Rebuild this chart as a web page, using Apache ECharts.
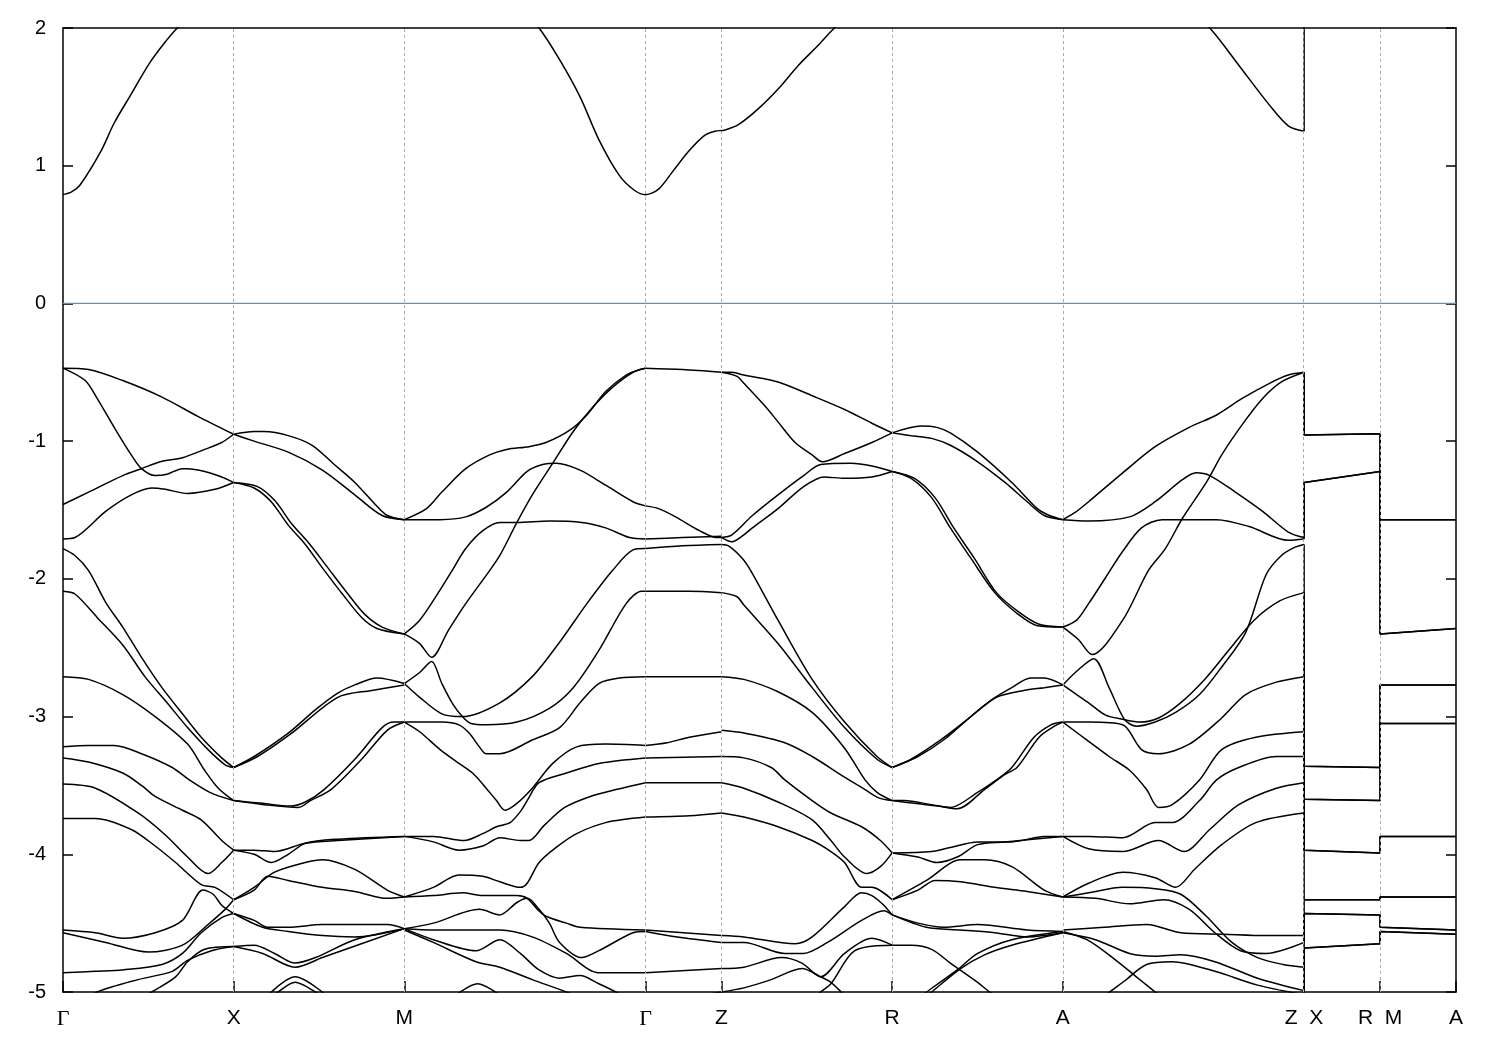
<!DOCTYPE html>
<html><head><meta charset="utf-8">
<script src="https://cdn.jsdelivr.net/npm/echarts@6/dist/echarts.min.js"></script>
<style>html,body{margin:0;padding:0;background:#fff}#c{width:1500px;height:1050px}</style>
</head><body><div id="c"></div>
<script>
// k-path positions (units of Gamma-X length) and labels
const tickK = [0, 1, 2, 3.414, 3.859, 4.859, 5.859, 7.273, 7.718, 8.163];
const tickLabels = ['Γ', 'X', 'M', 'Γ', 'Z', 'R', 'A', 'Z  X', 'R  M', 'A'];
const fermiLevel = 0;

// conduction band (values above 2 eV are clipped)
const cbCurve = [[0,0.79],[0.05,0.81],[0.10,0.86],[0.22,1.10],[0.30,1.31],[0.39,1.50],[0.51,1.75],[0.60,1.90],[0.67,2.0],[0.8,2.15],[1,2.35],[1.5,2.6],[2,2.7],[2.4,2.45],[2.65,2.2],[2.79,2.0],[2.91,1.77],[3.03,1.50],[3.14,1.19],[3.26,0.93],[3.35,0.82],[3.414,0.79],[3.49,0.83],[3.58,0.97],[3.67,1.11],[3.76,1.22],[3.82,1.25],[3.88,1.26],[3.96,1.30],[4.08,1.42],[4.20,1.57],[4.31,1.73],[4.43,1.88],[4.52,2.0],[4.7,2.2],[4.859,2.35],[5.4,2.55],[5.859,2.6],[6.3,2.4],[6.6,2.12],[6.72,2.0],[6.89,1.73],[7.07,1.44],[7.18,1.29],[7.273,1.25]];

// Gamma - X
const segGX = [
 [[0,-0.47],[0.15,-0.48],[0.35,-0.56],[0.58,-0.68],[0.79,-0.82],[1,-0.95]],
 [[0,-0.47],[0.13,-0.56],[0.20,-0.69],[0.30,-0.90],[0.40,-1.10],[0.46,-1.20],[0.54,-1.25],[0.61,-1.24],[0.70,-1.20],[0.73,-1.20],[0.83,-1.22],[0.93,-1.26],[1,-1.30]],
 [[0,-1.46],[0.15,-1.37],[0.35,-1.25],[0.46,-1.20],[0.57,-1.15],[0.70,-1.12],[0.83,-1.06],[0.93,-1.01],[1,-0.95]],
 [[0,-1.71],[0.07,-1.70],[0.25,-1.51],[0.40,-1.39],[0.52,-1.34],[0.60,-1.35],[0.73,-1.38],[0.89,-1.35],[1,-1.30]],
 [[0,-1.78],[0.07,-1.83],[0.15,-1.94],[0.25,-2.17],[0.35,-2.35],[0.46,-2.57],[0.58,-2.79],[0.70,-2.98],[0.81,-3.15],[0.93,-3.30],[1,-3.37]],
 [[0,-2.09],[0.07,-2.11],[0.20,-2.28],[0.35,-2.48],[0.48,-2.71],[0.61,-2.90],[0.73,-3.08],[0.85,-3.24],[0.95,-3.35],[1,-3.37]],
 [[0,-2.71],[0.15,-2.73],[0.35,-2.84],[0.54,-3.00],[0.73,-3.20],[0.83,-3.39],[0.91,-3.52],[1,-3.61]],
 [[0,-3.22],[0.15,-3.21],[0.30,-3.21],[0.46,-3.27],[0.64,-3.37],[0.74,-3.46],[0.86,-3.55],[1,-3.61]],
 [[0,-3.30],[0.15,-3.33],[0.35,-3.41],[0.46,-3.50],[0.54,-3.58],[0.70,-3.68],[0.81,-3.75],[0.93,-3.90],[1,-3.97]],
 [[0,-3.49],[0.19,-3.52],[0.44,-3.70],[0.60,-3.86],[0.73,-4.02],[0.85,-4.14],[0.93,-4.06],[1,-3.97]],
 [[0,-3.74],[0.19,-3.74],[0.40,-3.82],[0.54,-3.94],[0.66,-4.06],[0.81,-4.22],[0.89,-4.24],[1,-4.33]],
 [[0,-4.55],[0.19,-4.57],[0.35,-4.61],[0.54,-4.57],[0.70,-4.48],[0.82,-4.26],[0.88,-4.29],[0.93,-4.37],[1,-4.43]],
 [[0,-4.57],[0.25,-4.64],[0.50,-4.71],[0.70,-4.66],[0.85,-4.51],[0.95,-4.40],[1,-4.33]],
 [[0,-4.86],[0.19,-4.85],[0.35,-4.84],[0.58,-4.80],[0.70,-4.72],[0.81,-4.57],[0.93,-4.46],[1,-4.43]],
 [[0.10,-5.08],[0.20,-5.0],[0.44,-4.91],[0.64,-4.85],[0.73,-4.77],[0.87,-4.70],[1,-4.67]],
 [[0.45,-5.05],[0.52,-5.0],[0.66,-4.89],[0.73,-4.78],[0.83,-4.69],[1,-4.67]]
];

// X - M
const segXM = [
 [[1,-0.95],[1.12,-0.93],[1.18,-0.93],[1.32,-0.96],[1.46,-1.03],[1.59,-1.17],[1.71,-1.30],[1.83,-1.46],[1.90,-1.54],[2,-1.57]],
 [[1,-0.95],[1.12,-1.00],[1.32,-1.08],[1.52,-1.21],[1.71,-1.39],[1.87,-1.54],[2,-1.57]],
 [[1,-1.30],[1.12,-1.34],[1.22,-1.44],[1.32,-1.61],[1.42,-1.75],[1.52,-1.92],[1.65,-2.13],[1.75,-2.28],[1.84,-2.36],[2,-2.40]],
 [[1,-1.30],[1.14,-1.33],[1.24,-1.43],[1.34,-1.60],[1.44,-1.74],[1.54,-1.90],[1.67,-2.11],[1.77,-2.26],[1.87,-2.35],[2,-2.40]],
 [[1,-3.37],[1.12,-3.29],[1.32,-3.12],[1.48,-2.95],[1.61,-2.83],[1.71,-2.77],[1.84,-2.72],[2,-2.76]],
 [[1,-3.37],[1.14,-3.29],[1.33,-3.13],[1.61,-2.86],[1.81,-2.81],[2,-2.77]],
 [[1,-3.61],[1.17,-3.63],[1.33,-3.65],[1.42,-3.62],[1.53,-3.53],[1.71,-3.31],[1.87,-3.08],[1.94,-3.04],[2,-3.04]],
 [[1,-3.61],[1.18,-3.64],[1.38,-3.66],[1.45,-3.61],[1.57,-3.53],[1.75,-3.31],[1.90,-3.10],[2,-3.04]],
 [[1,-3.97],[1.12,-3.97],[1.24,-3.98],[1.42,-3.92],[1.61,-3.90],[2,-3.87]],
 [[1,-3.97],[1.12,-4.00],[1.22,-4.06],[1.32,-4.00],[1.42,-3.92],[1.61,-3.89],[2,-3.87]],
 [[1,-4.33],[1.12,-4.24],[1.24,-4.13],[1.42,-4.06],[1.52,-4.04],[1.71,-4.11],[1.90,-4.26],[2,-4.31]],
 [[1,-4.33],[1.12,-4.26],[1.20,-4.16],[1.32,-4.19],[1.52,-4.24],[1.71,-4.27],[1.90,-4.32],[2,-4.31]],
 [[1,-4.43],[1.12,-4.48],[1.20,-4.53],[1.32,-4.53],[1.52,-4.51],[1.90,-4.51],[2,-4.54]],
 [[1,-4.43],[1.17,-4.53],[1.32,-4.56],[1.52,-4.59],[1.71,-4.60],[2,-4.54]],
 [[1,-4.67],[1.12,-4.66],[1.24,-4.72],[1.36,-4.79],[1.48,-4.75],[1.71,-4.62],[2,-4.54]],
 [[1,-4.67],[1.17,-4.72],[1.36,-4.82],[1.52,-4.75],[2,-4.54]],
 [[1.15,-5.1],[1.22,-5.0],[1.36,-4.89],[1.52,-5.0],[1.6,-5.1]],
 [[1.2,-5.05],[1.26,-5.0],[1.36,-4.93],[1.48,-5.0],[1.54,-5.05]]
];

// M - Gamma
const segMG = [
 [[2,-1.57],[2.13,-1.49],[2.22,-1.37],[2.36,-1.20],[2.50,-1.10],[2.60,-1.06],[2.73,-1.04],[2.83,-1.01],[2.97,-0.92],[3.07,-0.81],[3.18,-0.64],[3.30,-0.52],[3.38,-0.48],[3.414,-0.47]],
 [[2,-1.57],[2.21,-1.57],[2.36,-1.55],[2.48,-1.48],[2.60,-1.37],[2.72,-1.22],[2.81,-1.17],[2.89,-1.16],[3.03,-1.21],[3.18,-1.32],[3.34,-1.44],[3.414,-1.47]],
 [[2,-2.40],[2.09,-2.47],[2.16,-2.57],[2.26,-2.37],[2.36,-2.18],[2.50,-1.94],[2.56,-1.83],[2.66,-1.59],[2.75,-1.39],[2.87,-1.16],[2.99,-0.93],[3.10,-0.76],[3.22,-0.61],[3.34,-0.50],[3.414,-0.47]],
 [[2,-2.40],[2.09,-2.30],[2.21,-2.08],[2.28,-1.94],[2.36,-1.78],[2.46,-1.65],[2.56,-1.59],[2.66,-1.59],[2.85,-1.58],[3.04,-1.59],[3.18,-1.63],[3.32,-1.70],[3.414,-1.71]],
 [[2,-2.76],[2.09,-2.86],[2.22,-2.98],[2.34,-3.00],[2.56,-2.90],[2.75,-2.71],[2.91,-2.46],[3.07,-2.18],[3.22,-1.94],[3.34,-1.79],[3.414,-1.78]],
 [[2,-2.76],[2.09,-2.68],[2.16,-2.60],[2.22,-2.76],[2.28,-2.90],[2.34,-3.00],[2.39,-3.05],[2.48,-3.06],[2.66,-3.04],[2.85,-2.94],[2.99,-2.79],[3.14,-2.52],[3.30,-2.18],[3.39,-2.09],[3.414,-2.09]],
 [[2,-3.04],[2.09,-3.04],[2.22,-3.04],[2.32,-3.06],[2.38,-3.12],[2.44,-3.22],[2.48,-3.27],[2.56,-3.27],[2.75,-3.17],[2.91,-3.08],[3.03,-2.90],[3.14,-2.76],[3.26,-2.72],[3.414,-2.71]],
 [[2,-3.04],[2.09,-3.11],[2.21,-3.24],[2.32,-3.34],[2.40,-3.41],[2.48,-3.52],[2.54,-3.61],[2.59,-3.68],[2.66,-3.63],[2.75,-3.52],[2.87,-3.34],[3.01,-3.22],[3.18,-3.20],[3.414,-3.21]],
 [[2,-3.87],[2.17,-3.87],[2.35,-3.90],[2.46,-3.85],[2.54,-3.80],[2.62,-3.77],[2.68,-3.69],[2.72,-3.61],[2.79,-3.48],[2.95,-3.41],[3.14,-3.34],[3.414,-3.30]],
 [[2,-3.87],[2.17,-3.91],[2.32,-3.97],[2.46,-3.94],[2.56,-3.88],[2.68,-3.90],[2.73,-3.90],[2.82,-3.79],[2.94,-3.66],[3.09,-3.58],[3.24,-3.53],[3.414,-3.48]],
 [[2,-4.31],[2.17,-4.24],[2.32,-4.15],[2.46,-4.16],[2.56,-4.20],[2.68,-4.24],[2.72,-4.21],[2.79,-4.06],[2.89,-3.95],[3.01,-3.85],[3.18,-3.77],[3.414,-3.73]],
 [[2,-4.31],[2.17,-4.30],[2.34,-4.28],[2.46,-4.30],[2.56,-4.30],[2.66,-4.30],[2.72,-4.32],[2.78,-4.40],[2.83,-4.45],[2.95,-4.50],[3.03,-4.53],[3.414,-4.55]],
 [[2,-4.54],[2.17,-4.50],[2.44,-4.40],[2.56,-4.44],[2.66,-4.35],[2.72,-4.32],[2.79,-4.40],[2.85,-4.50],[2.91,-4.64],[3.04,-4.75],[3.14,-4.70],[3.34,-4.57],[3.414,-4.56]],
 [[2,-4.54],[2.17,-4.55],[2.56,-4.55],[2.75,-4.60],[2.95,-4.72],[3.14,-4.86],[3.414,-4.86]],
 [[2,-4.54],[2.17,-4.62],[2.42,-4.70],[2.56,-4.62],[2.68,-4.72],[2.79,-4.84],[2.91,-4.90],[3.03,-4.88],[3.14,-4.94],[3.24,-5.0],[3.35,-5.08]],
 [[2,-4.55],[2.17,-4.64],[2.42,-4.78],[2.56,-4.82],[2.75,-4.91],[2.95,-5.0],[3.1,-5.08]],
 [[2.25,-5.06],[2.30,-5.02],[2.43,-4.94],[2.56,-5.02],[2.6,-5.06]]
];

// Gamma - Z
const segGZ = [
 [[3.414,-0.47],[3.63,-0.48],[3.859,-0.50]],
 [[3.414,-1.47],[3.49,-1.49],[3.59,-1.55],[3.73,-1.65],[3.83,-1.70],[3.859,-1.70]],
 [[3.414,-1.71],[3.63,-1.70],[3.859,-1.69]],
 [[3.414,-1.78],[3.63,-1.76],[3.859,-1.75]],
 [[3.414,-2.09],[3.67,-2.09],[3.859,-2.10]],
 [[3.414,-2.71],[3.859,-2.71]],
 [[3.414,-3.21],[3.54,-3.19],[3.67,-3.15],[3.859,-3.11]],
 [[3.414,-3.30],[3.859,-3.29]],
 [[3.414,-3.48],[3.859,-3.48]],
 [[3.414,-3.73],[3.67,-3.72],[3.859,-3.70]],
 [[3.414,-4.55],[3.859,-4.59]],
 [[3.414,-4.56],[3.6,-4.60],[3.859,-4.64]],
 [[3.414,-4.86],[3.859,-4.83]],
 [[3.6,-5.05],[3.859,-5.0]]
];

// Z - R
const segZR = [
 [[3.859,-0.50],[3.92,-0.50],[3.99,-0.52],[4.19,-0.57],[4.39,-0.67],[4.58,-0.77],[4.74,-0.87],[4.859,-0.94]],
 [[3.859,-0.50],[3.95,-0.53],[3.99,-0.58],[4.11,-0.74],[4.19,-0.86],[4.29,-1.01],[4.39,-1.10],[4.45,-1.15],[4.58,-1.09],[4.74,-1.01],[4.859,-0.94]],
 [[3.859,-1.70],[3.92,-1.68],[4.04,-1.54],[4.19,-1.39],[4.34,-1.25],[4.44,-1.17],[4.62,-1.16],[4.74,-1.18],[4.859,-1.22]],
 [[3.859,-1.70],[3.92,-1.73],[3.99,-1.68],[4.04,-1.63],[4.19,-1.49],[4.34,-1.33],[4.46,-1.26],[4.58,-1.27],[4.74,-1.26],[4.859,-1.22]],
 [[3.859,-1.75],[3.90,-1.76],[3.98,-1.85],[4.03,-1.94],[4.19,-2.30],[4.39,-2.73],[4.58,-3.04],[4.77,-3.29],[4.859,-3.37]],
 [[3.859,-2.10],[3.95,-2.13],[3.99,-2.19],[4.19,-2.47],[4.39,-2.79],[4.58,-3.08],[4.77,-3.31],[4.859,-3.37]],
 [[3.859,-2.71],[3.99,-2.73],[4.19,-2.82],[4.39,-2.97],[4.58,-3.23],[4.70,-3.46],[4.77,-3.55],[4.859,-3.61]],
 [[3.859,-3.10],[3.99,-3.12],[4.23,-3.19],[4.39,-3.29],[4.58,-3.44],[4.70,-3.53],[4.78,-3.59],[4.859,-3.61]],
 [[3.859,-3.29],[3.99,-3.30],[4.15,-3.37],[4.23,-3.46],[4.39,-3.61],[4.50,-3.70],[4.68,-3.80],[4.79,-3.90],[4.859,-3.99]],
 [[3.859,-3.48],[3.99,-3.52],[4.19,-3.62],[4.39,-3.75],[4.50,-3.90],[4.58,-4.02],[4.71,-4.14],[4.79,-4.09],[4.859,-3.99]],
 [[3.859,-3.70],[3.99,-3.73],[4.19,-3.80],[4.39,-3.90],[4.50,-3.98],[4.58,-4.06],[4.68,-4.24],[4.74,-4.24],[4.859,-4.33]],
 [[3.859,-4.59],[3.99,-4.60],[4.29,-4.65],[4.39,-4.60],[4.58,-4.38],[4.68,-4.28],[4.74,-4.30],[4.81,-4.37],[4.859,-4.44]],
 [[3.859,-4.64],[3.99,-4.64],[4.23,-4.72],[4.34,-4.72],[4.48,-4.64],[4.68,-4.48],[4.81,-4.41],[4.859,-4.44]],
 [[3.859,-4.83],[3.99,-4.82],[4.21,-4.75],[4.33,-4.79],[4.44,-4.89],[4.58,-4.72],[4.74,-4.61],[4.859,-4.66]],
 [[4.40,-5.05],[4.44,-5.0],[4.50,-4.94],[4.64,-4.70],[4.859,-4.66]],
 [[3.859,-5.0],[3.99,-4.97],[4.15,-4.91],[4.33,-4.83],[4.44,-4.89],[4.50,-4.93],[4.56,-5.0],[4.6,-5.05]]
];

// R - A
const segRA = [
 [[4.859,-0.94],[4.97,-0.96],[5.09,-0.98],[5.20,-1.03],[5.36,-1.15],[5.52,-1.30],[5.65,-1.44],[5.75,-1.54],[5.859,-1.57]],
 [[4.859,-0.94],[5.03,-0.89],[5.12,-0.90],[5.20,-0.94],[5.36,-1.08],[5.56,-1.30],[5.71,-1.49],[5.78,-1.54],[5.859,-1.57]],
 [[4.859,-1.22],[4.97,-1.27],[5.09,-1.41],[5.20,-1.63],[5.32,-1.85],[5.46,-2.10],[5.59,-2.25],[5.71,-2.34],[5.859,-2.35]],
 [[4.859,-1.22],[4.99,-1.27],[5.11,-1.41],[5.22,-1.63],[5.34,-1.85],[5.47,-2.10],[5.60,-2.24],[5.72,-2.33],[5.859,-2.35]],
 [[4.859,-3.37],[4.97,-3.31],[5.12,-3.19],[5.28,-3.04],[5.44,-2.88],[5.56,-2.79],[5.67,-2.72],[5.75,-2.72],[5.859,-2.77]],
 [[4.859,-3.37],[5.01,-3.29],[5.16,-3.17],[5.32,-3.00],[5.47,-2.86],[5.63,-2.81],[5.75,-2.79],[5.859,-2.77]],
 [[4.859,-3.61],[4.93,-3.61],[5.09,-3.64],[5.20,-3.66],[5.36,-3.55],[5.47,-3.46],[5.56,-3.37],[5.69,-3.15],[5.79,-3.06],[5.859,-3.04]],
 [[4.859,-3.61],[4.99,-3.63],[5.13,-3.65],[5.24,-3.67],[5.40,-3.53],[5.52,-3.42],[5.59,-3.37],[5.72,-3.15],[5.81,-3.07],[5.859,-3.04]],
 [[4.859,-3.99],[5.09,-3.98],[5.20,-3.95],[5.36,-3.91],[5.56,-3.91],[5.75,-3.87],[5.859,-3.87]],
 [[4.859,-3.99],[5.01,-4.02],[5.12,-4.06],[5.24,-4.02],[5.36,-3.93],[5.52,-3.91],[5.859,-3.87]],
 [[4.859,-4.33],[5.06,-4.19],[5.26,-4.04],[5.40,-4.04],[5.56,-4.09],[5.75,-4.26],[5.859,-4.31]],
 [[4.859,-4.33],[5.01,-4.26],[5.11,-4.19],[5.26,-4.20],[5.46,-4.24],[5.65,-4.27],[5.859,-4.31]],
 [[4.859,-4.44],[5.01,-4.50],[5.16,-4.53],[5.36,-4.51],[5.65,-4.55],[5.859,-4.56]],
 [[4.859,-4.44],[5.06,-4.53],[5.26,-4.55],[5.46,-4.57],[5.65,-4.60],[5.859,-4.57]],
 [[5.0,-5.05],[5.06,-5.0],[5.24,-4.84],[5.36,-4.72],[5.56,-4.62],[5.859,-4.56]],
 [[5.04,-5.05],[5.09,-5.0],[5.26,-4.83],[5.40,-4.73],[5.56,-4.66],[5.859,-4.57]],
 [[4.859,-4.66],[4.97,-4.66],[5.09,-4.69],[5.20,-4.79],[5.36,-4.93],[5.43,-5.0],[5.5,-5.05]]
];

// A - Z
const segAZ = [
 [[5.859,-1.57],[5.94,-1.51],[6.01,-1.44],[6.21,-1.23],[6.40,-1.04],[6.60,-0.90],[6.76,-0.81],[6.91,-0.69],[7.07,-0.58],[7.18,-0.52],[7.273,-0.50]],
 [[5.859,-1.57],[6.01,-1.58],[6.25,-1.55],[6.40,-1.44],[6.56,-1.28],[6.64,-1.23],[6.72,-1.25],[6.87,-1.37],[7.03,-1.51],[7.18,-1.66],[7.273,-1.70]],
 [[5.859,-2.35],[5.94,-2.30],[6.01,-2.18],[6.11,-1.99],[6.21,-1.80],[6.32,-1.63],[6.44,-1.57],[6.56,-1.57],[6.76,-1.57],[6.95,-1.62],[7.18,-1.72],[7.273,-1.71]],
 [[5.859,-2.35],[5.95,-2.44],[6.03,-2.55],[6.21,-2.30],[6.36,-1.94],[6.46,-1.78],[6.56,-1.56],[6.70,-1.30],[6.79,-1.10],[6.91,-0.88],[7.03,-0.69],[7.14,-0.57],[7.273,-0.50]],
 [[5.859,-2.77],[5.95,-2.66],[6.04,-2.58],[6.13,-2.79],[6.22,-3.02],[6.29,-3.07],[6.40,-3.04],[6.52,-2.97],[6.66,-2.84],[6.79,-2.64],[6.93,-2.39],[7.05,-1.97],[7.14,-1.83],[7.22,-1.77],[7.273,-1.75]],
 [[5.859,-2.77],[5.94,-2.84],[6.01,-2.90],[6.11,-2.99],[6.21,-3.02],[6.31,-3.04],[6.42,-3.01],[6.54,-2.91],[6.69,-2.73],[6.83,-2.52],[6.98,-2.30],[7.13,-2.16],[7.273,-2.10]],
 [[5.859,-3.04],[6.01,-3.04],[6.21,-3.06],[6.32,-3.24],[6.42,-3.27],[6.60,-3.20],[6.79,-3.01],[6.93,-2.84],[7.11,-2.75],[7.273,-2.71]],
 [[5.859,-3.04],[6.01,-3.18],[6.13,-3.29],[6.25,-3.39],[6.35,-3.53],[6.42,-3.66],[6.50,-3.64],[6.66,-3.46],[6.79,-3.24],[6.99,-3.15],[7.273,-3.11]],
 [[5.859,-3.87],[6.01,-3.87],[6.21,-3.88],[6.40,-3.77],[6.50,-3.77],[6.66,-3.61],[6.76,-3.46],[6.89,-3.37],[7.11,-3.29],[7.273,-3.29]],
 [[5.859,-3.87],[6.01,-3.96],[6.21,-3.98],[6.42,-3.90],[6.57,-3.98],[6.72,-3.82],[6.89,-3.64],[7.11,-3.52],[7.273,-3.48]],
 [[5.859,-4.31],[6.01,-4.21],[6.21,-4.13],[6.40,-4.17],[6.52,-4.24],[6.63,-4.11],[6.79,-3.93],[6.99,-3.77],[7.273,-3.70]],
 [[5.859,-4.31],[6.01,-4.28],[6.21,-4.24],[6.40,-4.25],[6.55,-4.29],[6.70,-4.45],[6.85,-4.64],[7.0,-4.75],[7.15,-4.80],[7.273,-4.82]],
 [[5.859,-4.31],[6.05,-4.32],[6.25,-4.36],[6.45,-4.33],[6.60,-4.40],[6.75,-4.57],[6.90,-4.70],[7.05,-4.72],[7.273,-4.64]],
 [[5.859,-4.55],[6.1,-4.53],[6.35,-4.51],[6.55,-4.57],[6.8,-4.58],[7.05,-4.59],[7.273,-4.59]],
 [[5.859,-4.57],[6.05,-4.62],[6.25,-4.72],[6.40,-4.74],[6.55,-4.73],[6.75,-4.78],[7.0,-4.90],[7.273,-4.99]],
 [[5.859,-4.56],[6.0,-4.62],[6.15,-4.75],[6.30,-4.90],[6.42,-5.02]],
 [[6.1,-5.03],[6.22,-4.92],[6.35,-4.80],[6.50,-4.78],[6.75,-4.85],[7.0,-4.95],[7.273,-5.02]]
];

// Z|X - R|M - A part: band energies at [Z, X, R, M, A] (band-index order)
const tailK = [7.273, 7.273, 7.718, 7.718, 8.163];
const tailBands = [
 [1.25, 2.6, 2.6, 2.8, 2.8],
 [-0.50, -0.955, -0.947, -1.57, -1.57],
 [-0.50, -0.955, -0.947, -1.57, -1.57],
 [-1.69, -1.30, -1.22, -2.40, -2.36],
 [-1.71, -1.30, -1.22, -2.40, -2.36],
 [-1.75, -3.36, -3.37, -2.77, -2.77],
 [-2.10, -3.36, -3.37, -2.77, -2.77],
 [-2.71, -3.60, -3.61, -3.05, -3.05],
 [-3.11, -3.60, -3.61, -3.05, -3.05],
 [-3.29, -3.97, -3.99, -3.87, -3.87],
 [-3.48, -3.97, -3.99, -3.87, -3.87],
 [-3.70, -4.33, -4.33, -4.31, -4.31],
 [-4.59, -4.33, -4.33, -4.31, -4.31],
 [-4.64, -4.43, -4.44, -4.53, -4.55],
 [-4.82, -4.43, -4.44, -4.53, -4.55],
 [-4.99, -4.68, -4.65, -4.56, -4.58],
 [-5.10, -4.68, -4.65, -4.56, -4.58]
];

const chart = echarts.init(document.getElementById('c'), null, {renderer: 'canvas'});
const bandStyle = {color: '#000', width: 1.5};
const series = [];

series.push({
  type: 'line', data: [[tickK[0], fermiLevel], [tickK[tickK.length - 1], fermiLevel]],
  showSymbol: false, silent: true, z: 1,
  lineStyle: {color: '#3a9fe2', width: 1.2},
  markLine: {
    silent: true, symbol: 'none', label: {show: false}, animation: false,
    lineStyle: {color: '#a8a8a8', width: 1, type: [3, 3]},
    data: tickK.slice(1, -1).map(k => ({xAxis: k}))
  }
});

const curves = [cbCurve].concat(segGX, segXM, segMG, segGZ, segZR, segRA, segAZ);
curves.forEach(c => series.push({
  type: 'line', data: c, smooth: 0.3, showSymbol: false, silent: true, z: 3,
  lineStyle: bandStyle, clip: true
}));
tailBands.forEach(b => series.push({
  type: 'line', data: tailK.map((k, i) => [k, b[i]]), smooth: false, showSymbol: false,
  silent: true, z: 3, lineStyle: bandStyle, clip: true
}));

const labelFor = v => {
  let best = 0;
  tickK.forEach((k, i) => { if (Math.abs(k - v) < Math.abs(tickK[best] - v)) best = i; });
  const t = tickLabels[best];
  return t === 'Γ' ? '{g|Γ}' : t;
};

chart.setOption({
  animation: false,
  backgroundColor: '#fff',
  grid: {left: 63, right: 44, top: 28, bottom: 58, containLabel: false},
  xAxis: [{
    type: 'value', min: tickK[0], max: tickK[tickK.length - 1], position: 'bottom',
    axisLine: {show: true, onZero: false, lineStyle: {color: '#000', width: 1.5}},
    axisTick: {show: true, inside: true, length: 11, customValues: tickK, lineStyle: {color: '#000', width: 1.5}},
    axisLabel: {
      show: true, customValues: tickK, formatter: labelFor, margin: 16,
      color: '#000', fontSize: 21, fontFamily: 'Liberation Sans, Arial, sans-serif',
      rich: {g: {fontFamily: 'Liberation Serif, Times New Roman, serif', fontSize: 22, color: '#000'}}
    },
    splitLine: {show: false}
  }, {
    type: 'value', min: tickK[0], max: tickK[tickK.length - 1], position: 'top',
    axisLine: {show: true, onZero: false, lineStyle: {color: '#000', width: 1.5}},
    axisTick: {show: false}, axisLabel: {show: false}, splitLine: {show: false}
  }],
  yAxis: [{
    type: 'value', min: -5, max: 2, interval: 1, position: 'left',
    axisLine: {show: true, onZero: false, lineStyle: {color: '#000', width: 1.5}},
    axisTick: {show: true, inside: true, length: 10, lineStyle: {color: '#000', width: 1.5}},
    axisLabel: {color: '#000', fontSize: 20, margin: 17, fontFamily: 'Liberation Sans, Arial, sans-serif'},
    splitLine: {show: false}
  }, {
    type: 'value', min: -5, max: 2, interval: 1, position: 'right',
    axisLine: {show: true, onZero: false, lineStyle: {color: '#000', width: 1.5}},
    axisTick: {show: true, inside: true, length: 10, lineStyle: {color: '#000', width: 1.5}},
    axisLabel: {show: false}, splitLine: {show: false}
  }],
  series: series
});
</script></body></html>
